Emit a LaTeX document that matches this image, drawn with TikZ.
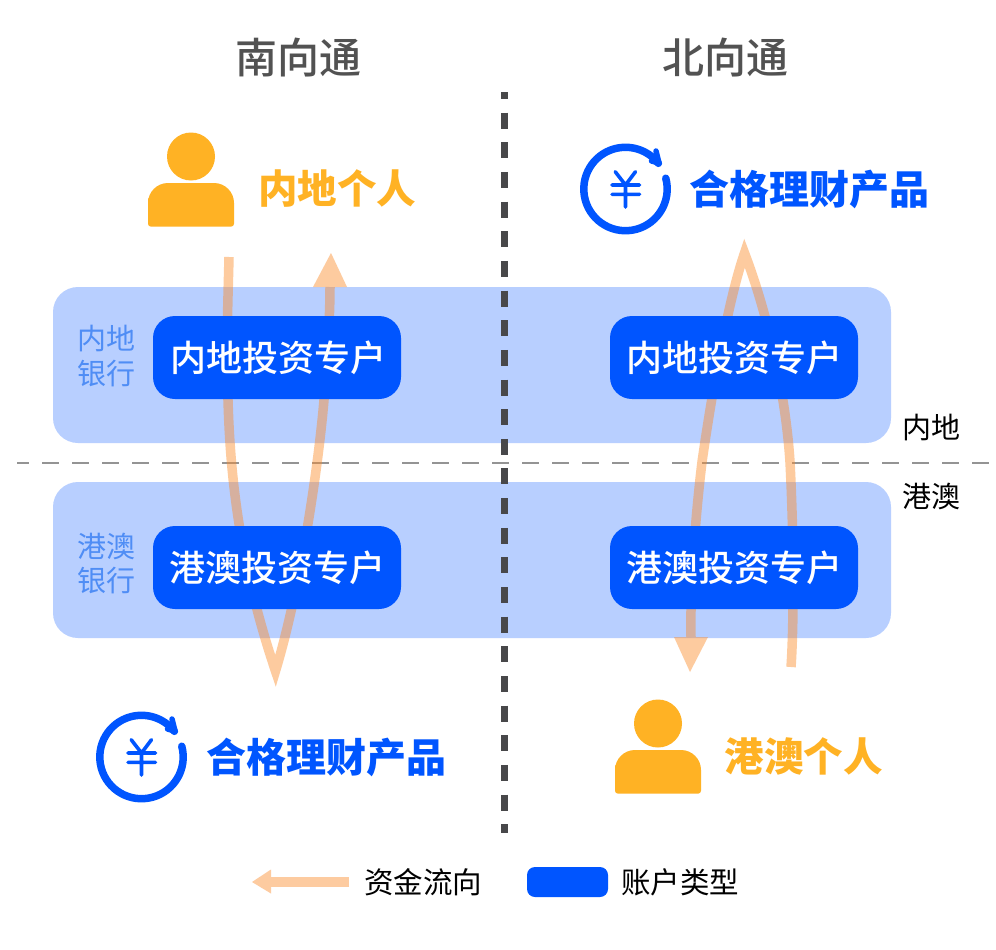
\documentclass[tikz,border=0pt]{standalone}
\usepackage{fontspec}
\setmainfont{Noto Sans CJK SC}
\setsansfont{Noto Sans CJK SC}
\newfontfamily\cjkm{Noto Sans CJK SC Medium}
\newcommand{\fz}[1]{\fontsize{#1}{#1}\selectfont}
\definecolor{bandblue}{HTML}{B8CFFF}
\definecolor{deepblue}{HTML}{0055FF}
\definecolor{labelblue}{HTML}{4F8DF5}
\definecolor{amber}{HTML}{FFB224}
\definecolor{flow}{HTML}{FB8C2C}
\definecolor{flowsolid}{HTML}{FDCBA0}
\definecolor{darkdash}{HTML}{48484A}
\tikzset{
  band/.style={fill=bandblue,rounded corners=25},
  account/.style={fill=deepblue,text=white,rounded corners=22,minimum width=248,minimum height=83,inner sep=0,font=\cjkm\fz{36}},
  flowline/.style={draw=flow,draw opacity=.45,line width=9.5pt,line join=miter,miter limit=20},
  flowhead/.style={fill=flow,fill opacity=.45},
  title/.style={text=black!68,font=\cjkm\fz{42},inner sep=0},
  side/.style={text=labelblue,font=\fz{29},inner sep=0},
  region/.style={text=black,font=\fz{29},inner sep=0},
  legend/.style={text=black,font=\fz{29.5},inner sep=0},
  who/.style={text=amber,font=\fz{39.5}\bfseries,inner sep=0},
  product/.style={text=deepblue,font=\fz{40}\bfseries,inner sep=0},
  yenicon/.pic={
    \begin{scope}[y=1pt,draw=deepblue,line cap=round,line join=round]
      \draw[line width=7.5pt] (15:41.7) arc[start angle=15,end angle=-322,radius=41.7];
      \draw[line width=5.5pt] (33.5,26) -- (30.5,38);
      \draw[line width=5.5pt] (33.5,26) -- (26,28);
      \draw[line width=3.6pt] (-10.3,17.3) -- (0,4) -- (10,17.3) (0,4) -- (0,-18)
        (-13.5,4) -- (14,4) (-13.5,-5.3) -- (14,-5.3);
    \end{scope}
  },
  personicon/.pic={
    \begin{scope}[y=1pt]
      \fill[amber] (0,34.5) circle[radius=24];
      \fill[amber,rounded corners=3] (-43,-35.7) -- (-43,-10) [rounded corners=20] -- (-43,8) -- (43,8) [rounded corners=3] -- (43,-35.7) -- cycle;
    \end{scope}
  }
}
\begin{document}
\begin{tikzpicture}[x=1pt,y=-1pt]
\useasboundingbox (0,0) rectangle (996,950);
\fill[white] (0,0) rectangle (996,950);
% bands
\fill[band] (53,287) rectangle (891,443);
\fill[band] (53,482) rectangle (891,638);
% dividers
\coordinate (hl) at (17,462.5); \coordinate (hr) at (989,462.5);
\coordinate (vt) at (504.5,92); \coordinate (vb) at (504.5,833);
\draw[black!42,line width=2pt,dash pattern=on 17pt off 13pt,dash phase=5pt] (hl) -- (hr);
\draw[darkdash,line width=7.6pt,dash pattern=on 16pt off 13.65pt,dash phase=9pt] (vt) -- (vb);
% flows, left
\coordinate (ls) at (229,257); \coordinate (ltip) at (275.5,671); \coordinate (le) at (330,287);
\draw[flowline] (ls) .. controls (228,300) and (226,350) .. (228,400)
   .. controls (230,470) and (238,560) .. (ltip)
   .. controls (300,590) and (318,470) .. (324,400)
   .. controls (327,360) and (330,320) .. (le);
\fill[flowhead] (313,287) -- (331,253) -- (347,287) -- cycle;
% flows, right
\coordinate (rs) at (791,667); \coordinate (rtip) at (744.5,253); \coordinate (re) at (691,637);
\draw[flowline] (rs) .. controls (793,640) and (795,560) .. (790,462)
   .. controls (786,400) and (770,320) .. (rtip)
   .. controls (725,310) and (708,420) .. (702,462)
   .. controls (695,520) and (690,590) .. (re);
\fill[flowhead] (674,637) -- (690,672) -- (708,637) -- cycle;
% accounts
\node[account] (a1) at (277,357.5) {\hspace*{3pt}内地投资专户};
\node[account] (a2) at (734,357.5) {内地投资专户};
\node[account] (a3) at (277,567.5) {港澳投资专户};
\node[account] (a4) at (734,567.5) {港澳投资专户};
% titles
\node[title] (t1) at (298,58) {南向通};
\node[title] (t2) at (725,58) {北向通};
% side labels
\node[side] (s1) at (106,339) {内地};
\node[side] (s2) at (106,374) {银行};
\node[side] (s3) at (106,546) {港澳};
\node[side] (s4) at (106,581) {银行};
\node[region] (r1) at (931,428) {内地};
\node[region] (r2) at (931,496) {港澳};
% icons and labels
\pic at (191,191) {personicon};
\pic at (658,758) {personicon};
\pic at (625.5,189) {yenicon};
\pic at (141.5,757) {yenicon};
\node[who] (w1) at (337,188) {内地个人};
\node[who] (w2) at (803.5,756) {港澳个人};
\node[product] (p1) at (809.5,189) {合格理财产品};
\node[product] (p2) at (326,757) {合格理财产品};
% legend
\coordinate (la) at (349,882); \coordinate (lb) at (271,882);
\draw[flowsolid,line width=10pt] (la) -- (lb);
\fill[flowsolid] (271,869.5) -- (252,882) -- (271,893.5) -- cycle;
\node[legend] (l1) at (423,882) {资金流向};
\node[fill=deepblue,rounded corners=8,minimum width=81,minimum height=30,inner sep=0] (l2) at (567.5,882) {};
\node[legend] (l3) at (680,882) {账户类型};
\end{tikzpicture}
\end{document}
